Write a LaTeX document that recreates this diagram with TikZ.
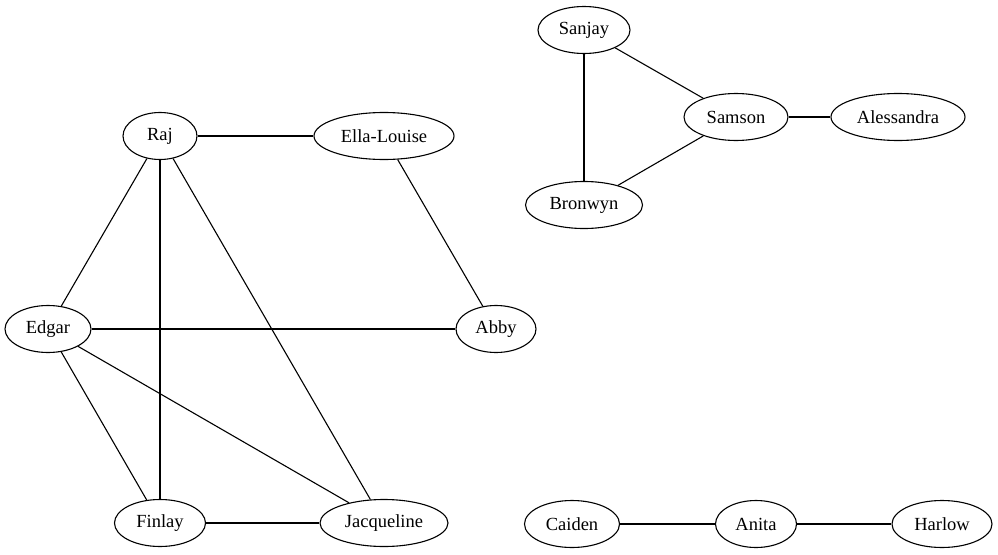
\documentclass[tikz,border=0pt]{standalone}
\usepackage{fontspec}
\setmainfont{Liberation Serif}
\usetikzlibrary{shapes.geometric}
\begin{document}
\begin{tikzpicture}[x=1pt,y=-1pt,
  person/.style={draw, ellipse, line width=1.1pt, inner sep=0pt, minimum height=47pt,
    font=\fontsize{18.5}{20}\selectfont},
  link/.style={line width=1.1pt}]
\useasboundingbox (0,0) rectangle (998,554);
\node[person, minimum width=74pt]  (raj)   at (160,136) {Raj};
\node[person, minimum width=140pt] (ella)  at (384,136) {Ella-Louise};
\node[person, minimum width=86pt]  (edgar) at (48,329) {Edgar};
\node[person, minimum width=80pt]  (abby)  at (496,329) {Abby};
\node[person, minimum width=91pt]  (finlay) at (160,523) {Finlay};
\node[person, minimum width=128pt] (jac)   at (384,523) {Jacqueline};
\node[person, minimum width=92pt]  (sanjay) at (584,30) {Sanjay};
\node[person, minimum width=104pt] (samson) at (736,117) {Samson};
\node[person, minimum width=134pt] (ales)  at (898,117) {Alessandra};
\node[person, minimum width=117pt] (bron)  at (584,205) {Bronwyn};
\node[person, minimum width=95pt]  (caiden) at (572,524) {Caiden};
\node[person, minimum width=81pt]  (anita) at (756,524) {Anita};
\node[person, minimum width=100pt] (harlow) at (942,524) {Harlow};
\draw[link] (raj) -- (ella);
\draw[link] (raj) -- (edgar);
\draw[link] (raj) -- (finlay);
\draw[link] (raj) -- (jac);
\draw[link] (ella) -- (abby);
\draw[link] (edgar) -- (abby);
\draw[link] (edgar) -- (finlay);
\draw[link] (edgar) -- (jac);
\draw[link] (finlay) -- (jac);
\draw[link] (sanjay) -- (samson);
\draw[link] (sanjay) -- (bron);
\draw[link] (samson) -- (bron);
\draw[link] (samson) -- (ales);
\draw[link] (caiden) -- (anita);
\draw[link] (anita) -- (harlow);
\end{tikzpicture}
\end{document}
